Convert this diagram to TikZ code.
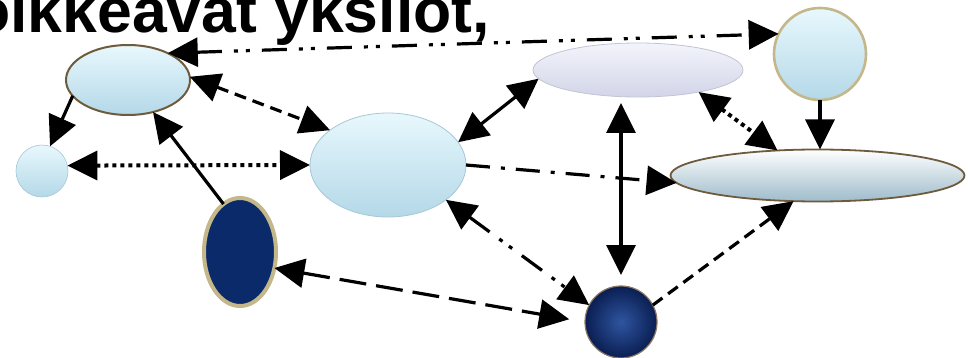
\documentclass[tikz,border=0pt]{standalone}
\usepackage{fontspec}
\setmainfont{Liberation Sans}
\usetikzlibrary{arrows.meta,shapes.geometric}
\definecolor{lbTop}{HTML}{E8F8FD}
\definecolor{lbMid}{HTML}{D0F0FB}
\definecolor{lbBot}{HTML}{B4D8E8}
\definecolor{brownB}{HTML}{6E5A3C}
\definecolor{khaki}{HTML}{C4B78A}
\definecolor{navy}{HTML}{0A2A6A}
\definecolor{navyIn}{HTML}{2F55A0}
\definecolor{navyOut}{HTML}{0A1E52}
\definecolor{lavTop}{HTML}{F3F4FB}
\definecolor{lavBot}{HTML}{D2D5E8}
\definecolor{softB}{HTML}{A5C7D6}
\definecolor{gBot}{HTML}{9EBBCB}
\begin{document}
\begin{tikzpicture}[x=1pt,y=-1pt,
  blob/.style={inner sep=0pt, outer sep=0pt},
  glossA/.style={blob, ellipse, top color=lbTop, middle color=lbMid, bottom color=lbBot, draw=brownB, line width=2pt},
  glossB/.style={blob, circle, top color=lbTop, middle color=lbMid, bottom color=lbBot, draw=softB, line width=0.6pt},
  glossD/.style={blob, ellipse, top color=lbTop, middle color=lbMid, bottom color=lbBot, draw=softB, line width=0.8pt},
  lavE/.style={blob, ellipse, top color=lavTop, middle color=lavTop!50!lavBot, bottom color=lavBot, draw=lavBot!80!gray, line width=0.8pt},
  glossF/.style={blob, circle, top color=lbTop, middle color=lbMid, bottom color=lbBot, draw=khaki, line width=2.6pt},
  glossG/.style={blob, ellipse, top color=white, middle color=lbTop, bottom color=gBot, draw=brownB, line width=1.8pt},
  navyC/.style={blob, ellipse, fill=navy, draw=khaki, line width=4pt},
  navyH/.style={blob, circle, inner color=navyIn, outer color=navyOut, draw=brownB!80!white, line width=1.2pt},
  conn/.style={line width=3.2pt, line cap=butt},
  arr/.style={conn, -{Triangle[length=30pt,width=29pt]}},
  darr/.style={conn, {Triangle[length=30pt,width=29pt]}-{Triangle[length=30pt,width=29pt]}},
  ddd/.style={dash pattern=on 25pt off 12pt on 4pt off 8pt on 4pt off 12pt},
  dsh/.style={dash pattern=on 12pt off 7pt},
  dotl/.style={line width=4pt, dash pattern=on 4pt off 4pt},
  dashdot/.style={dash pattern=on 24pt off 11pt on 4pt off 11pt},
  ldash/.style={dash pattern=on 27pt off 10pt}
]
\useasboundingbox (0,0) rectangle (968,358);
\clip (0,0) rectangle (968,358);
\node[anchor=base west, inner sep=0pt, font=\bfseries\fontsize{62.5}{62.5}\selectfont] (title) at (-28,33) {oikkeavat yksilot,};

\node[glossA, minimum width=124pt, minimum height=70pt] (A) at (128,80) {};
\node[glossB, minimum size=52pt] (B) at (42,171) {};
\node[navyC, minimum width=72pt, minimum height=108pt] (C) at (240,252) {};
\node[glossD, minimum width=156pt, minimum height=104pt] (D) at (388,165) {};
\node[lavE, minimum width=210pt, minimum height=54pt] (E) at (638,70) {};
\node[glossF, minimum size=92pt] (F) at (820,54) {};
\node[glossG, minimum width=294pt, minimum height=52pt] (G) at (817.5,175.5) {};
\node[navyH, minimum size=72pt] (H) at (621,322) {};

\draw[darr, ddd] (A.34) -- (F.154);
\draw[arr] (A.196) -- (B.72);
\draw[arr] (C.109) -- (A.-52);
\draw[darr, dsh] (A.3) -- (D.149);
\draw[darr, dotl] (B.12) -- (D.west);
\draw[darr] (D.18) -- (E.185);
\draw[arr, dashdot] (D.east) -- (G.183);
\draw[darr, ddd] (D.-31) -- (H.152);
\draw[darr, ldash, shorten >=16pt] (C.-25) -- (H.west);
\draw[darr, shorten <=6pt, shorten >=11pt] (H.north |- E.south) -- (H.north);
\draw[darr, dotl] (E.-20) -- (G.148);
\draw[arr] (F.south) -- (F.south |- G.north);
\draw[arr, dsh] (H.28) -- (G.227);
\end{tikzpicture}
\end{document}
